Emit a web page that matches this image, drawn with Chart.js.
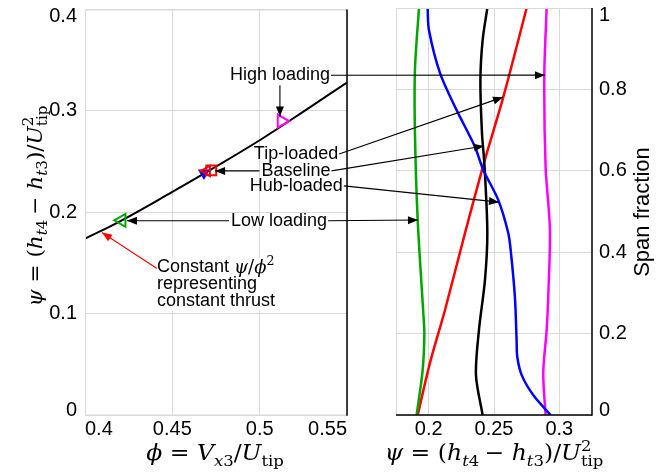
<!DOCTYPE html>
<html lang="en">
<head>
  <meta charset="UTF-8">
  <title>Constant thrust loading cases</title>
  <script src="https://cdn.jsdelivr.net/npm/chart.js"></script>
  <style>
    body { margin: 0; background: #fff; }
    #wrap { position: relative; width: 665px; height: 472px; }
    #wrap canvas { position: absolute; top: 0; }
    #left { left: 0; }
    #right { left: 370px; }
    #overlay { left: 0; pointer-events: none; }
  </style>
</head>
<body>
  <div id="wrap">
    <canvas id="left" width="370" height="472"></canvas>
    <canvas id="right" width="295" height="472"></canvas>
    <canvas id="overlay" width="665" height="472"></canvas>
  </div>

  <script>
    // left panel: constant thrust line and the five operating points
    const phiCurve = [0.400, 0.420, 0.450, 0.470, 0.500, 0.530, 0.550];
    const psiCurve = [0.174, 0.191, 0.220, 0.240, 0.271, 0.305, 0.328];

    const pointNames = ['Hub-loaded', 'Tip-loaded', 'Baseline', 'Low loading', 'High loading'];
    const pointPhi = [0.4681, 0.4698, 0.4723, 0.4210, 0.5125];
    const pointPsi = [0.2388, 0.2408, 0.2413, 0.1920, 0.2900];

    const phiTicks = [0.4, 0.45, 0.5, 0.55];
    const phiTickLabels = ['0.4', '0.45', '0.5', '0.55'];
    const psiTicks = [0, 0.1, 0.2, 0.3, 0.4];
    const psiTickLabels = ['0', '0.1', '0.2', '0.3', '0.4'];

    // right panel: spanwise loading distributions
    const lowPsi  = [0.1926, 0.1895, 0.1895, 0.1916, 0.1959, 0.1967, 0.1954, 0.1908];
    const lowSpan = [1, 0.848, 0.693, 0.479, 0.25, 0.2, 0.11, 0];
    const hubPsi  = [0.1992, 0.2002, 0.2087, 0.2214, 0.2354, 0.2418, 0.2533, 0.2609, 0.2630, 0.2660, 0.2673, 0.2678, 0.2712, 0.2800, 0.2933];
    const hubSpan = [1, 0.946, 0.84, 0.749, 0.659, 0.602, 0.528, 0.447, 0.398, 0.29, 0.184, 0.143, 0.098, 0.049, 0];
    const basePsi  = [0.2449, 0.2413, 0.2396, 0.2408, 0.2428, 0.2449, 0.2431, 0.2385, 0.2362, 0.2413];
    const baseSpan = [1, 0.921, 0.823, 0.693, 0.609, 0.447, 0.332, 0.209, 0.098, 0];
    const tipPsi  = [0.2750, 0.2571, 0.2423, 0.2278, 0.2125, 0.2010, 0.1916];
    const tipSpan = [1, 0.781, 0.619, 0.447, 0.258, 0.128, 0];
    const highPsi  = [0.2903, 0.2885, 0.2895, 0.2928, 0.2915, 0.2903, 0.2877, 0.2895];
    const highSpan = [1, 0.835, 0.609, 0.455, 0.29, 0.209, 0.103, 0];

    const psiTicksR = [0.2, 0.25, 0.3];
    const psiTickLabelsR = ['0.2', '0.25', '0.3'];
    const spanTicks = [0, 0.2, 0.4, 0.6, 0.8, 1];
    const spanTickLabels = ['0', '0.2', '0.4', '0.6', '0.8', '1'];

    // annotations: label anchor on the left panel, target on the right panel
    const noteText = ['High loading', 'Tip-loaded', 'Baseline', 'Hub-loaded', 'Low loading'];
    const notePhi = [0.5116, 0.5208, 0.5208, 0.5210, 0.5111];
    const notePsi = [0.3351, 0.2575, 0.2408, 0.2260, 0.1916];
    const targetPsi = [0.2890, 0.2569, 0.2423, 0.2538, 0.1918];
    const targetSpan = [0.835, 0.781, 0.661, 0.523, 0.479];

    const GRID = '#d9d9d9';
    const SANS = '"Liberation Sans", Arial, sans-serif';
    const SERIF = '"DejaVu Serif", "Liberation Serif", serif';
    Chart.defaults.font.family = SANS;

    const markerStyle = {
      'Hub-loaded':   { color: '#0000ff', style: 'triangle', rot: 180, r: 5, fill: true },
      'Tip-loaded':   { color: '#ff0000', style: 'triangle', rot: -90, r: 6 },
      'Baseline':     { color: '#ff0000', style: 'rect', rot: 0, r: 7 },
      'Low loading':  { color: '#00a600', style: 'triangle', rot: -90, r: 7.5 },
      'High loading': { color: '#ff00ff', style: 'triangle', rot: 90, r: 7.5 }
    };

    const xy = (xs, ys) => xs.map((x, i) => ({ x: x, y: ys[i] }));
    const fixedTicks = values => s => { s.ticks = values.map(v => ({ value: v })); };

    function makeFrame(c) {
      return {
        id: 'frame',
        afterDraw(chart) {
          const a = chart.chartArea, ctx = chart.ctx;
          const side = (col, w, x1, y1, x2, y2) => {
            ctx.strokeStyle = col; ctx.lineWidth = w;
            ctx.beginPath(); ctx.moveTo(x1, y1); ctx.lineTo(x2, y2); ctx.stroke();
          };
          ctx.save();
          side(c.top, 1, a.left, a.top + 0.5, a.right, a.top + 0.5);
          side(c.left, 1, a.left + 0.5, a.top, a.left + 0.5, a.bottom);
          side(c.bottom, c.bottom === GRID ? 1 : 1.5, a.left, a.bottom, a.right, a.bottom);
          side(c.right, c.right === GRID ? 1 : 1.5, a.right, a.top, a.right, a.bottom + 0.75);
          ctx.restore();
        }
      };
    }

    function makeYLabels(labels, side) {
      return {
        id: 'ylab',
        afterDraw(chart) {
          const s = chart.scales.y, a = chart.chartArea, ctx = chart.ctx;
          ctx.save();
          ctx.font = '20px ' + SANS;
          ctx.fillStyle = '#000';
          ctx.textBaseline = 'middle';
          ctx.textAlign = side === 'right' ? 'left' : 'right';
          const x = side === 'right' ? a.right + 7 : a.left - 8;
          s.ticks.forEach((t, i) => {
            const y = Math.min(Math.max(s.getPixelForValue(t.value), a.top + 7), a.bottom - 5);
            ctx.fillText(labels[i], x, y);
          });
          ctx.restore();
        }
      };
    }

    const baseOptions = {
      responsive: false,
      animation: false,
      events: [],
      plugins: { legend: { display: false }, tooltip: { enabled: false } }
    };

    const leftSets = [{
      data: xy(phiCurve, psiCurve),
      showLine: true, borderColor: '#000', borderWidth: 2,
      pointRadius: 0, tension: 0.4, order: 10
    }];
    pointNames.forEach((name, i) => {
      const m = markerStyle[name];
      leftSets.push({
        label: name,
        data: [{ x: pointPhi[i], y: pointPsi[i] }],
        pointStyle: m.style, pointRotation: m.rot, pointRadius: m.r,
        pointBorderColor: m.color, pointBorderWidth: 2,
        pointBackgroundColor: m.fill ? m.color : 'rgba(255,255,255,0)',
        order: pointNames.length - i
      });
    });

    const leftChart = new Chart(document.getElementById('left'), {
      type: 'scatter',
      data: { datasets: leftSets },
      options: Object.assign({}, baseOptions, {
        layout: { padding: { left: 0, top: 8, right: 23, bottom: 0 } },
        scales: {
          x: {
            type: 'linear', min: 0.4, max: 0.55,
            afterBuildTicks: fixedTicks(phiTicks),
            afterFit: s => { s.height = 57; s.paddingLeft = 0; s.paddingRight = 0; },
            grid: { color: GRID, drawTicks: false },
            border: { display: false },
            ticks: {
              align: 'inner', color: '#000', font: { size: 20 }, padding: 2,
              maxRotation: 0, autoSkip: false,
              callback: (v, i) => phiTickLabels[i]
            }
          },
          y: {
            type: 'linear', min: 0, max: 0.4,
            afterBuildTicks: fixedTicks(psiTicks),
            afterFit: s => { s.width = 85; s.paddingTop = 0; s.paddingBottom = 0; },
            grid: { color: GRID, drawTicks: false },
            border: { display: false },
            ticks: { display: false }
          }
        }
      }),
      plugins: [makeFrame({ top: GRID, left: GRID, bottom: GRID, right: '#000' }),
                makeYLabels(psiTickLabels, 'left')]
    });

    const rightSeries = [
      [lowPsi, lowSpan, '#00a600'],
      [hubPsi, hubSpan, '#0000ff'],
      [basePsi, baseSpan, '#000000'],
      [tipPsi, tipSpan, '#ff0000'],
      [highPsi, highSpan, '#ff00ff']
    ];

    const rightChart = new Chart(document.getElementById('right'), {
      type: 'scatter',
      data: {
        datasets: rightSeries.map(s => ({
          data: xy(s[0], s[1]),
          showLine: true, borderColor: s[2], borderWidth: 2.5,
          pointRadius: 0, tension: 0.3
        }))
      },
      options: Object.assign({}, baseOptions, {
        layout: { padding: { left: 26, top: 8, right: 0, bottom: 0 } },
        scales: {
          x: {
            type: 'linear', min: 0.175, max: 0.325,
            afterBuildTicks: fixedTicks(psiTicksR),
            afterFit: s => { s.height = 57; s.paddingLeft = 0; s.paddingRight = 0; },
            grid: { color: GRID, drawTicks: false },
            border: { display: false },
            ticks: {
              color: '#000', font: { size: 20 }, padding: 2,
              maxRotation: 0, autoSkip: false,
              callback: (v, i) => psiTickLabelsR[i]
            }
          },
          y: {
            type: 'linear', position: 'right', min: 0, max: 1,
            afterBuildTicks: fixedTicks(spanTicks),
            afterFit: s => { s.width = 73; s.paddingTop = 0; s.paddingBottom = 0; },
            grid: { color: GRID, drawTicks: false },
            border: { display: false },
            ticks: { display: false }
          }
        }
      }),
      plugins: [makeFrame({ top: GRID, left: GRID, bottom: '#000', right: '#000' }),
                makeYLabels(spanTickLabels, 'right')]
    });

    // ---- overlay: titles and annotations across both panels ----
    const ov = document.getElementById('overlay').getContext('2d');
    const L = (phi, psi) => [leftChart.scales.x.getPixelForValue(phi), leftChart.scales.y.getPixelForValue(psi)];
    const R = (psi, span) => [370 + rightChart.scales.x.getPixelForValue(psi), rightChart.scales.y.getPixelForValue(span)];

    function arrow(p1, p2, color, head) {
      ov.save();
      ov.strokeStyle = color; ov.fillStyle = color; ov.lineWidth = 1.1;
      ov.beginPath(); ov.moveTo(p1[0], p1[1]); ov.lineTo(p2[0], p2[1]); ov.stroke();
      if (head) {
        const ang = Math.atan2(p2[1] - p1[1], p2[0] - p1[0]);
        ov.translate(p2[0], p2[1]); ov.rotate(ang);
        ov.beginPath(); ov.moveTo(0, 0); ov.lineTo(-10, -4); ov.lineTo(-10, 4); ov.closePath(); ov.fill();
      }
      ov.restore();
    }

    // math text: runs of {t, it, sub, sup, stack}
    function mathLayout(runs, size) {
      let x = 0;
      const items = [];
      runs.forEach(r => {
        const s = (r.sub || r.sup) ? size * 0.7 : size;
        const f = (r.it ? 'italic ' : '') + s.toFixed(1) + 'px ' + SERIF;
        ov.font = f;
        const w = ov.measureText(r.t).width;
        items.push({ t: r.t, f: f, x: x, dy: r.sub ? size * 0.26 : r.sup ? -size * 0.42 : 0 });
        if (!r.stack) x += w;
      });
      return { items: items, width: x };
    }
    function drawMath(runs, size, cx, cy, angle, align, stretch) {
      const m = mathLayout(runs, size);
      ov.save();
      ov.translate(cx, cy); ov.rotate(angle);
      ov.scale(stretch || 1, 1);
      ov.fillStyle = '#000'; ov.textAlign = 'left'; ov.textBaseline = 'alphabetic';
      const x0 = align === 'left' ? 0 : -m.width / 2;
      m.items.forEach(it => { ov.font = it.f; ov.fillText(it.t, x0 + it.x, it.dy); });
      ov.restore();
      return m.width;
    }

    const psiTitle = [
      { t: 'ψ', it: true }, { t: ' = (' }, { t: 'h', it: true }, { t: 't', it: true, sub: true }, { t: '4 ', sub: true },
      { t: '− ' }, { t: 'h', it: true }, { t: 't', it: true, sub: true }, { t: '3', sub: true },
      { t: ')/' }, { t: 'U', it: true }, { t: '2', sup: true, stack: true }, { t: 'tip', sub: true }
    ];
    const phiTitle = [
      { t: 'ϕ', it: true }, { t: ' = ' }, { t: 'V', it: true }, { t: 'x', it: true, sub: true }, { t: '3', sub: true },
      { t: '/' }, { t: 'U', it: true }, { t: 'tip', sub: true }
    ];

    drawMath(phiTitle, 22, 215, 460, 0, 'center', 1.07);
    drawMath(psiTitle, 22, 494, 460, 0, 'center', 1.07);
    drawMath(psiTitle, 21, 42, 206, -Math.PI / 2, 'center', 1.03);

    ov.save();
    ov.font = '22px ' + SANS; ov.fillStyle = '#000';
    ov.textAlign = 'center'; ov.textBaseline = 'middle';
    ov.translate(643, 212); ov.rotate(-Math.PI / 2);
    ov.fillText('Span fraction', 0, 0);
    ov.restore();

    // constant thrust note
    const b1 = L(0.4384, 0.1553), b2 = L(0.5134, 0.1030);
    ov.fillStyle = '#fff';
    ov.fillRect(b1[0], b1[1], b2[0] - b1[0], b2[1] - b1[1]);
    arrow(L(0.4412, 0.1445), L(0.4097, 0.1800), '#ff0000', true);
    const n1 = L(0.4412, 0.1464), n2 = L(0.4412, 0.1287), n3 = L(0.4412, 0.1120);
    ov.fillStyle = '#000'; ov.textAlign = 'left'; ov.textBaseline = 'middle';
    ov.font = '18px ' + SANS;
    ov.fillText('Constant ', n1[0], n1[1]);
    const cw = ov.measureText('Constant ').width;
    drawMath([{ t: 'ψ', it: true }, { t: '/' }, { t: 'ϕ', it: true }, { t: '2', sup: true }], 18, n1[0] + cw, n1[1] + 6, 0, 'left');
    ov.fillStyle = '#000'; ov.textAlign = 'left'; ov.textBaseline = 'middle';
    ov.font = '18px ' + SANS;
    ov.fillText('representing', n2[0], n2[1]);
    ov.fillText('constant thrust', n3[0], n3[1]);

    // case labels with their arrows
    noteText.forEach((txt, i) => {
      const p = L(notePhi[i], notePsi[i]);
      ov.font = '18px ' + SANS;
      const w = ov.measureText(txt).width;
      ov.fillStyle = '#000'; ov.textAlign = 'center'; ov.textBaseline = 'middle';
      ov.fillText(txt, p[0], p[1]);
      arrow([p[0] + w / 2 + 1, p[1]], R(targetPsi[i], targetSpan[i]), '#000', true);
      if (txt === 'High loading') arrow([p[0], p[1] + 10], L(notePhi[i], 0.2945), '#000', true);
      if (txt === 'Baseline') arrow([p[0] - w / 2 - 2, p[1]], L(0.4745, notePsi[i]), '#000', true);
      if (txt === 'Low loading') arrow([p[0] - w / 2 - 2, p[1]], L(0.4240, notePsi[i]), '#000', true);
    });
  </script>
</body>
</html>
